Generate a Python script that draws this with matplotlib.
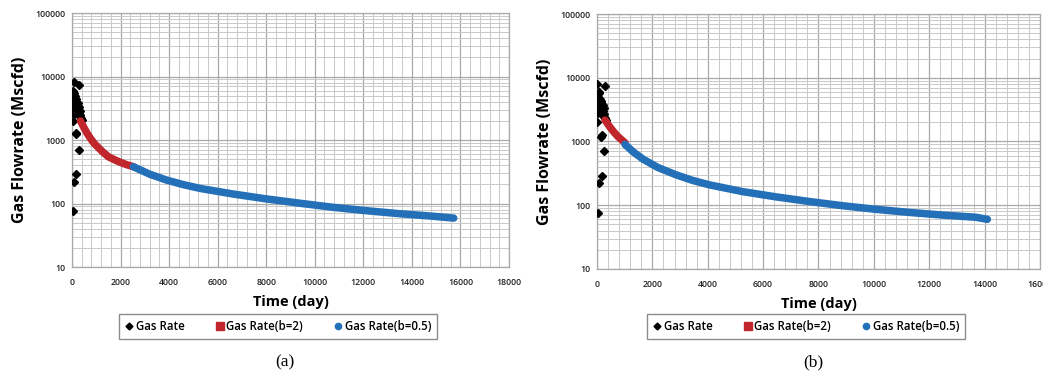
import matplotlib
matplotlib.use("Agg")
import matplotlib.pyplot as plt
from matplotlib.lines import Line2D
from matplotlib.ticker import MultipleLocator, LogLocator, FixedLocator, NullFormatter

plt.rcParams['font.family'] = ['Open Sans', 'DejaVu Sans']

# ---- panel (a) ----
gas_day_a = [5, 10, 15, 20, 25, 30, 35, 40, 45, 50, 60, 70, 80, 90, 100, 110, 120, 130, 140,
             150, 160, 175, 190, 200, 215, 230, 250, 270, 290, 310, 330, 350, 380, 410,
             20, 40, 60, 100, 140, 180, 230, 260, 300, 340,
             80, 290, 55, 150, 175, 300, 165, 82, 55]
gas_rate_a = [4200, 5000, 3600, 4600, 3900, 5400, 3100, 4300, 3400, 4800, 3800, 5600, 4100,
              3300, 4500, 3700, 3000, 4200, 3500, 2900, 3900, 3200, 2700, 3600, 2900, 3300,
              2600, 3000, 2500, 2700, 2300, 2500, 2200, 2100,
              3300, 2800, 6000, 2600, 5000, 4400, 3900, 3500, 3300, 2900,
              8300, 7300, 1990, 1245, 1300, 700, 292, 220, 77]
b2_day_a = [350, 420, 500, 600, 750, 900, 1000, 1250, 1500, 1750, 2000, 2250, 2530]
b2_rate_a = [2000, 1780, 1550, 1320, 1080, 900, 820, 660, 546, 490, 445, 410, 380]
b05_day_a = [2530, 3200, 3900, 4600, 5280, 6650, 8030, 9400, 10780, 12150, 13530, 14900, 15725]
b05_rate_a = [380, 290, 234, 198, 173, 141, 118, 101, 87, 77, 69, 63, 59]

# ---- panel (b) ----
gas_day_b = [5, 10, 15, 20, 25, 30, 35, 40, 45, 50, 60, 70, 80, 90, 100, 110, 120, 130, 140,
             150, 160, 175, 190, 200, 215, 230, 250, 270, 290, 320,
             20, 40, 70, 110, 150, 200, 250,
             12, 288, 12, 150, 180, 252, 165, 80, 50]
gas_rate_b = [4300, 5100, 3700, 4700, 3900, 5500, 3200, 4400, 3400, 4900, 3800, 5700, 4100,
              3300, 4600, 3600, 3000, 4300, 3500, 2900, 3800, 3100, 2700, 3400, 2600, 3000,
              2400, 2700, 2300, 2200,
              3400, 2800, 6000, 4500, 4100, 3700, 3300,
              7980, 7430, 2040, 1180, 1260, 718, 292, 220, 75]
b2_day_b = [288, 450, 600, 750, 900, 1009]
b2_rate_b = [2170, 1720, 1420, 1200, 1050, 957]
b05_day_b = [1009, 1300, 1670, 2200, 2870, 3450, 4070, 5270, 6470, 7680, 8880, 10080,
             11280, 12480, 13680, 14100]
b05_rate_b = [900, 690, 525, 390, 298, 245, 208, 163, 135, 114, 98, 86, 77, 70, 64.7, 60]

labels = ["Gas Rate", "Gas Rate(b=2)", "Gas Rate(b=0.5)"]
red = "#C0262C"
blue = "#2470B8"

fig = plt.figure(figsize=(10.43, 3.74), dpi=100)

panels = [
    ([0.069, 0.286, 0.419, 0.679], 18000, gas_day_a, gas_rate_a, b2_day_a, b2_rate_a,
     b05_day_a, b05_rate_a, "(a)"),
    ([0.5724, 0.281, 0.4247, 0.6815], 16000, gas_day_b, gas_rate_b, b2_day_b, b2_rate_b,
     b05_day_b, b05_rate_b, "(b)"),
]

for rect, xmax, gd, gr, rd, rr, bd, br, cap in panels:
    ax = fig.add_axes(rect)
    ax.set_yscale("log")
    ax.set_xlim(0, xmax)
    ax.set_ylim(10, 100000)

    ax.plot(gd, gr, linestyle="none", marker="D", markersize=4.2, color="black", zorder=3)
    ax.plot(rd, rr, color=red, linewidth=5.4, solid_capstyle="round",
            solid_joinstyle="round", zorder=4)
    ax.plot(bd, br, color=blue, linewidth=5.4, solid_capstyle="round",
            solid_joinstyle="round", zorder=5)

    ax.xaxis.set_major_locator(MultipleLocator(2000))
    ax.xaxis.set_minor_locator(MultipleLocator(400))
    ax.yaxis.set_major_locator(FixedLocator([10, 100, 1000, 10000, 100000]))
    ax.yaxis.set_major_formatter(matplotlib.ticker.FuncFormatter(lambda v, p: "%d" % v))
    ax.yaxis.set_minor_locator(LogLocator(base=10, subs=range(2, 10)))
    ax.yaxis.set_minor_formatter(NullFormatter())

    ax.grid(which="major", color="#A8A8A8", linewidth=0.9)
    ax.grid(which="minor", color="#C9C9C9", linewidth=0.7)
    ax.set_axisbelow(True)
    for s in ax.spines.values():
        s.set_color("#A8A8A8")
        s.set_linewidth(0.9)

    ax.tick_params(which="both", length=0, labelsize=6.3, colors="#222222")
    ax.tick_params(axis="x", pad=8)
    ax.tick_params(axis="y", pad=5)
    for t in ax.get_xticklabels() + ax.get_yticklabels():
        t.set_fontweight("semibold")

    ax.set_xlabel("Time (day)", fontsize=10.5, fontweight="bold", labelpad=6)
    ax.set_ylabel("Gas Flowrate (Mscfd)", fontsize=11.5, fontweight="bold", labelpad=5)

    handles = [
        Line2D([], [], linestyle="none", marker="D", markersize=3.5, color="black"),
        Line2D([], [], linestyle="none", marker="s", markersize=5.5, color=red),
        Line2D([], [], linestyle="none", marker="o", markersize=4.5, color=blue),
    ]
    cx = rect[0] + rect[2] / 2 - 0.012
    leg = ax.legend(handles, labels, ncol=3, loc="center", bbox_to_anchor=(cx, 0.127),
                    bbox_transform=fig.transFigure, frameon=True, fancybox=False,
                    fontsize=8.3, handlelength=0.8, handletextpad=0.2, columnspacing=2.6,
                    borderpad=0.5, edgecolor="#707070")
    leg.get_frame().set_linewidth(1.0)
    for t in leg.get_texts():
        t.set_fontweight("semibold")

    fig.text(rect[0] + rect[2] / 2 - 0.005, 0.03, cap, ha="center", va="center",
             fontsize=12.5, family="Liberation Serif")

fig.savefig("out.png", dpi=100)
